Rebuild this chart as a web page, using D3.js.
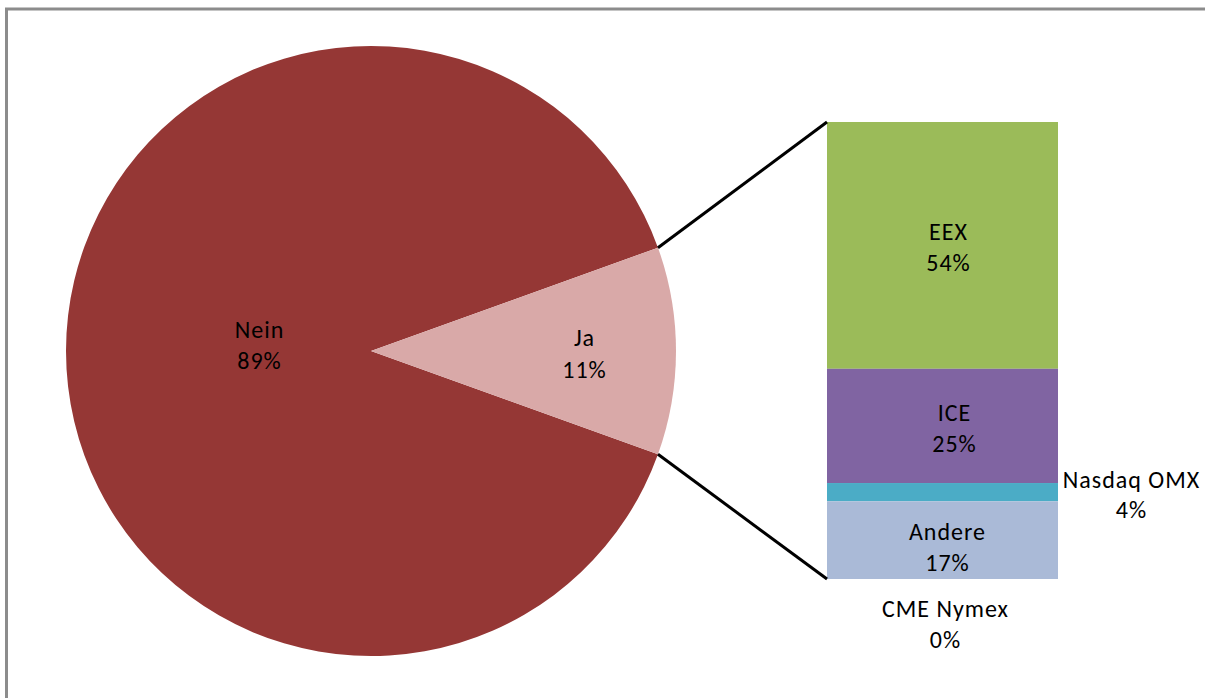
<!DOCTYPE html>
<html><head><meta charset="utf-8">
<script src="https://cdn.jsdelivr.net/npm/d3@7"></script>
<style>body{margin:0;background:#fff}svg{display:block}</style>
</head><body>
<svg id="c" width="1205" height="698"></svg>
<script>
const pieLabels = ["Nein", "Ja"];
const pieValues = [89, 11];
const pieColors = ["#953735", "#d9a9a8"];
const barLabels = ["EEX", "ICE", "Nasdaq OMX", "Andere", "CME Nymex"];
const barValues = [54, 25, 4, 17, 0];
const barColors = ["#9bbb59", "#8064a2", "#4bacc6", "#aabad7", "#f79646"];

const svg = d3.select("#c");
const font = "Carlito, Calibri, 'Open Sans', sans-serif";
// chart border
svg.append("rect").attr("x",6.5).attr("y",9).attr("width",1240).attr("height",720)
  .attr("fill","none").attr("stroke","#8c8c8c").attr("stroke-width",3);

const cx = 371, cy = 351, r = 305;
const total = d3.sum(pieValues);
const jaAngle = pieValues[1]/total*2*Math.PI;
const start = Math.PI/2 - jaAngle/2;
const arcs = d3.pie().sort(null).value(d=>d)
  .startAngle(start + jaAngle).endAngle(start + jaAngle + 2*Math.PI)(pieValues);
const arc = d3.arc().innerRadius(0).outerRadius(r);
const g = svg.append("g").attr("transform",`translate(${cx},${cy})`);
g.selectAll("path").data(arcs).join("path").attr("d",arc).attr("fill",(d,i)=>pieColors[i]);

function label(x, b1, b2, l1, l2){
  const t = svg.append("text").attr("text-anchor","middle").attr("font-family",font)
    .attr("font-size",24).attr("letter-spacing",1).attr("fill","#000");
  t.append("tspan").attr("x",x+0.5).attr("y",b1).text(l1);
  t.append("tspan").attr("x",x+0.5).attr("y",b2).text(l2);
}
const pieLabPos = [[259,338,369],[584,346,378]];
pieValues.forEach((v,i)=>label(pieLabPos[i][0],pieLabPos[i][1],pieLabPos[i][2],pieLabels[i],v+"%"));

// bar of pie
const bx = 827, bw = 231, btop = 122, bbot = 579;
const y = d3.scaleLinear().domain([0, d3.sum(barValues)]).range([btop, bbot]);
let cum = 0;
const segs = barValues.map((v,i)=>{const s={i,v,y0:cum,y1:cum+v}; cum+=v; return s;});
svg.selectAll("rect.seg").data(segs).join("rect").attr("class","seg")
  .attr("x",bx).attr("width",bw).attr("y",d=>y(d.y0)).attr("height",d=>y(d.y1)-y(d.y0))
  .attr("fill",d=>barColors[d.i]);

// connector lines
const p1 = [cx + r*Math.sin(start), cy - r*Math.cos(start)];
const p2 = [cx + r*Math.sin(start+jaAngle), cy - r*Math.cos(start+jaAngle)];
svg.append("line").attr("x1",p1[0]).attr("y1",p1[1]).attr("x2",bx).attr("y2",y(0))
  .attr("stroke","#000").attr("stroke-width",3);
svg.append("line").attr("x1",p2[0]).attr("y1",p2[1]).attr("x2",bx).attr("y2",y(d3.sum(barValues)))
  .attr("stroke","#000").attr("stroke-width",3);

const barLabPos = [[948,240,271],[954,421,452],[1131,488,518],[947,540,571],[945,617,648]];
segs.forEach(d=>{
  const [lx,b1,b2] = barLabPos[d.i];
  label(lx,b1,b2,barLabels[d.i],d.v+"%");
});
</script>
</body></html>
